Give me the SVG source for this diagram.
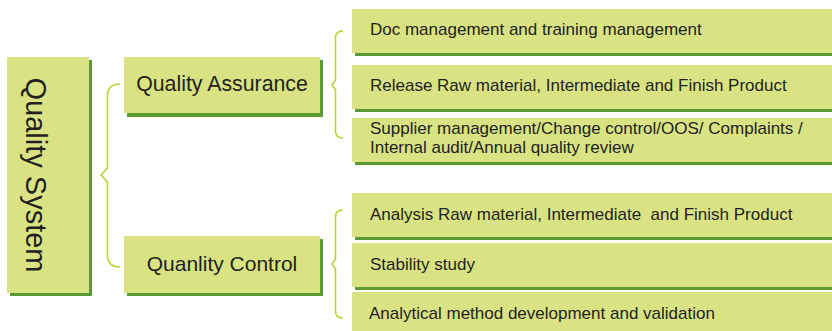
<svg xmlns="http://www.w3.org/2000/svg" width="832" height="331" viewBox="0 0 832 331">
<style>
.box{fill:#d9e384}
.sh{fill:#5b9a32}
.t{font-family:"Liberation Sans",Arial,sans-serif;fill:#231f20}
.big{font-size:21px}
.sm{font-size:17px}
.br{fill:none;stroke:#b7d431;stroke-width:1.6}
</style>
<rect width="832" height="331" fill="#ffffff"/>
<g id="quality-system">
<rect class="sh" x="10" y="60" width="82" height="236"/>
<rect class="box" x="7" y="57" width="82" height="236"/>
<text class="t" font-size="29" transform="translate(36,175) rotate(90)" text-anchor="middle" dominant-baseline="central">Quality System</text>
</g>
<g id="quality-assurance">
<rect class="sh" x="127" y="60" width="196" height="57"/>
<rect class="box" x="124" y="57" width="196" height="56"/>
<text class="t" font-size="21.3" x="222" y="84" text-anchor="middle" dominant-baseline="central">Quality Assurance</text>
</g>
<g id="quality-control">
<rect class="sh" x="127" y="239" width="196" height="57"/>
<rect class="box" x="124" y="236" width="196" height="57"/>
<text class="t big" x="222" y="263" text-anchor="middle" dominant-baseline="central">Quanlity Control</text>
</g>
<g id="qa-1">
<rect class="sh" x="355" y="12" width="480" height="44"/>
<rect class="box" x="352" y="9" width="480" height="44"/>
<text class="t sm" x="370" y="29" dominant-baseline="central">Doc management and training management</text>
</g>
<g id="qa-2">
<rect class="sh" x="355" y="68" width="480" height="44"/>
<rect class="box" x="352" y="65" width="480" height="44"/>
<text class="t sm" x="370" y="85" dominant-baseline="central">Release Raw material, Intermediate and Finish Product</text>
</g>
<g id="qa-3">
<rect class="sh" x="355" y="121" width="480" height="44"/>
<rect class="box" x="352" y="118" width="480" height="44"/>
<text class="t sm" x="370" y="128" dominant-baseline="central">Supplier management/Change control/OOS/ Complaints /</text>
<text class="t sm" x="370" y="147" dominant-baseline="central">Internal audit/Annual quality review</text>
</g>
<g id="qc-1">
<rect class="sh" x="355" y="196" width="480" height="44"/>
<rect class="box" x="352" y="193" width="480" height="44"/>
<text class="t sm" x="370" y="214" dominant-baseline="central" style="white-space:pre">Analysis Raw material, Intermediate  and Finish Product</text>
</g>
<g id="qc-2">
<rect class="sh" x="355" y="246" width="480" height="44"/>
<rect class="box" x="352" y="243" width="480" height="44"/>
<text class="t sm" x="370" y="264" dominant-baseline="central">Stability study</text>
</g>
<g id="qc-3">
<rect class="sh" x="355" y="295" width="480" height="44"/>
<rect class="box" x="352" y="292" width="480" height="44"/>
<text class="t sm" x="369" y="313" dominant-baseline="central">Analytical method development and validation</text>
</g>
<g id="connectors">
<path class="br" d="M120,84 Q107.5,84 107.5,96 L107.5,168 L101,175 L107.5,182 L107.5,255 Q107.5,267 120,267"/>
<path class="br" d="M343,31 Q335.5,31 335.5,38 L335.5,80 L332,85 L335.5,90 L335.5,131 Q335.5,138 343,138"/>
<path class="br" d="M343,210 Q335.5,210 335.5,217 L335.5,259 L332,264 L335.5,269 L335.5,311 Q335.5,318 343,318"/>
</g>
</svg>
